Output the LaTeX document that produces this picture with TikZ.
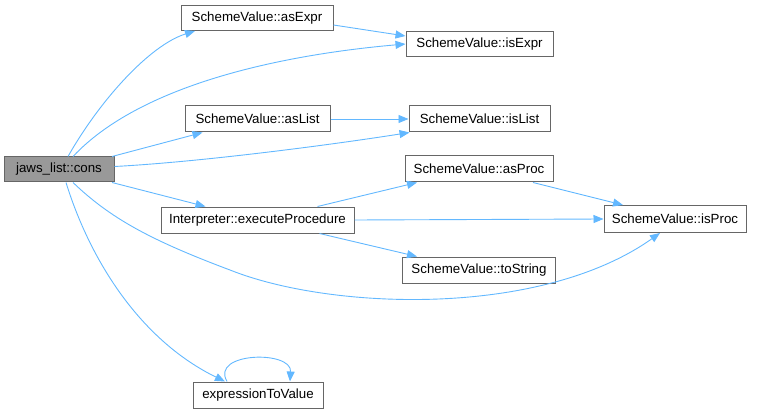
\documentclass[tikz,border=0pt]{standalone}
\usepackage{fontspec}
\setmainfont{Liberation Sans}
\usetikzlibrary{arrows.meta}
\definecolor{edgec}{HTML}{63B8FF}
\definecolor{boxc}{HTML}{666666}
\definecolor{grayf}{HTML}{999999}
\tikzset{
  fn/.style={draw=boxc, line width=1pt, fill=white, inner sep=0pt, minimum height=25pt, font=\fontsize{13.3}{15}\selectfont},
  cur/.style={fn, fill=grayf},
  call/.style={draw=edgec, line width=0.9pt, -{Triangle[length=10pt,width=8pt]}},
}
\begin{document}
\begin{tikzpicture}[x=1pt,y=-1pt]
\useasboundingbox (0,0) rectangle (757,414);
\node[cur, minimum width=110pt] (cons) at (59,169.5) {jaws\_list::cons};
\node[fn, minimum width=152pt] (asExpr) at (257,18) {SchemeValue::asExpr};
\node[fn, minimum width=147pt] (isExpr) at (479.5,44) {SchemeValue::isExpr};
\node[fn, minimum width=145pt, minimum height=26pt] (asList) at (257.5,119) {SchemeValue::asList};
\node[fn, minimum width=141pt, minimum height=26pt] (isList) at (479.5,119) {SchemeValue::isList};
\node[fn, minimum width=148pt, minimum height=26pt] (asProc) at (479,169) {SchemeValue::asProc};
\node[fn, minimum width=193pt, minimum height=26pt] (exec) at (257.5,220) {Interpreter::executeProcedure};
\node[fn, minimum width=142pt, minimum height=27pt] (isProc) at (675,219) {SchemeValue::isProc};
\node[fn, minimum width=153pt, minimum height=26pt] (toString) at (479,270) {SchemeValue::toString};
\node[fn, minimum width=130pt, minimum height=26pt] (etv) at (258,395) {expressionToValue};

% from cons
\draw[call] ([xshift=9pt]cons.north) .. controls (100,100) and (150,45) .. ([xshift=-62pt]asExpr.south);
\draw[call] ([xshift=14pt]cons.north) .. controls (140,85) and (280,55) .. (isExpr.west);
\draw[call] ([xshift=53pt]cons.north) -- ([xshift=-55pt]asList.south);
\draw[call] ([yshift=3pt]cons.east) .. controls (200,162) and (330,145) .. ([xshift=1pt]isList.south west);
\draw[call] ([xshift=53pt]cons.south) -- ([xshift=-52pt]exec.north);
\draw[call] ([xshift=14pt]cons.south) .. controls (110,218) and (150,240) .. (230,270) .. controls (330,310) and (540,318) .. ([xshift=-15pt]isProc.south);
\draw[call] ([xshift=7pt]cons.south) .. controls (90,260) and (140,340) .. ([xshift=-33pt]etv.north);

% others
\draw[call] ([yshift=-7pt]asExpr.east) -- ([yshift=8pt]isExpr.west);
\draw[call] (asList.east) -- (isList.west);
\draw[call] ([xshift=60pt]exec.north) -- ([xshift=-62pt]asProc.south);
\draw[call] (exec.east) -- (isProc.west);
\draw[call] ([xshift=62pt]exec.south) -- ([xshift=-62pt]toString.north);
\draw[call] ([xshift=54pt]asProc.south) -- ([xshift=-52pt]isProc.north);
\draw[call] ([xshift=-31pt]etv.north) .. controls (210,352) and (292,350) .. ([xshift=32pt]etv.north);
\end{tikzpicture}
\end{document}
